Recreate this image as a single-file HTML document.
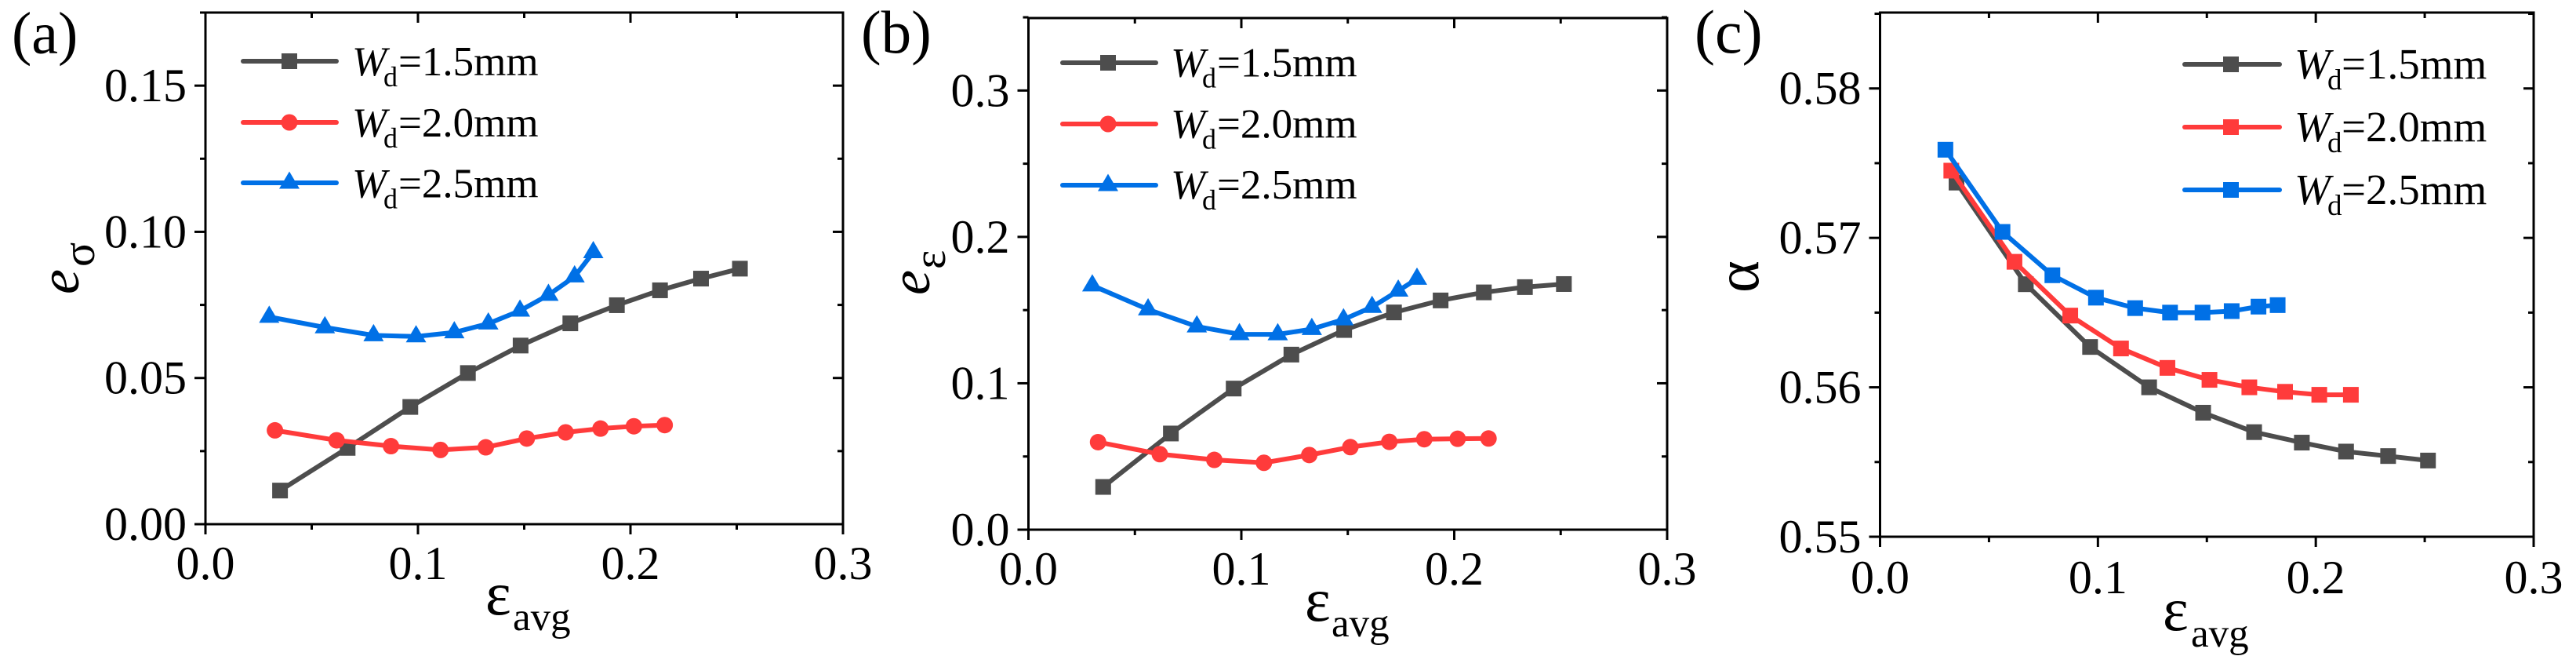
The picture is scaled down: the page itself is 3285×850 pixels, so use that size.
<!DOCTYPE html>
<html lang="en">
<head>
<meta charset="utf-8">
<title>Three panel strain charts</title>
<style>
html,body{margin:0;padding:0;background:#fff;}
body{width:3285px;height:850px;overflow:hidden;}
svg{display:block;}
text{font-family:"Liberation Serif","DejaVu Serif",serif;fill:#000;}
</style>
</head>
<body>
<svg id="figure" xmlns="http://www.w3.org/2000/svg" width="3285" height="850" viewBox="0 0 3285 850"></svg>
<script>
// ---- Data ----
const xTickValues = [0, 0.1, 0.2, 0.3];
const xTickLabels = ['0.0', '0.1', '0.2', '0.3'];
const xMinorValues = [0.05, 0.15, 0.25];
const legendWidths = ['1.5', '2.0', '2.5'];

const strain15 = [0.0351, 0.0669, 0.0964, 0.1235, 0.1483, 0.1717, 0.1936, 0.2139, 0.2332, 0.2515];
const strain20 = [0.0327, 0.0617, 0.0873, 0.1106, 0.1319, 0.1512, 0.1695, 0.1859, 0.2016, 0.2161];
const strain25 = [0.0300, 0.0562, 0.0791, 0.0991, 0.1171, 0.1331, 0.1480, 0.1614, 0.1737, 0.1825];

const eSigma15 = [0.0115, 0.0261, 0.0401, 0.0517, 0.0611, 0.0687, 0.0749, 0.0800, 0.0840, 0.0874];
const eSigma20 = [0.0321, 0.0287, 0.0267, 0.0254, 0.0263, 0.0293, 0.0314, 0.0327, 0.0335, 0.0339];
const eSigma25 = [0.0709, 0.0673, 0.0646, 0.0642, 0.0656, 0.0686, 0.0730, 0.0784, 0.0847, 0.0930];

const eEps15 = [0.0292, 0.0657, 0.0964, 0.1196, 0.1364, 0.1484, 0.1566, 0.1621, 0.1657, 0.1678];
const eEps20 = [0.0598, 0.0516, 0.0477, 0.0457, 0.0510, 0.0564, 0.0600, 0.0618, 0.0621, 0.0623];
const eEps25 = [0.1668, 0.1504, 0.1388, 0.1335, 0.1334, 0.1370, 0.1436, 0.1521, 0.1632, 0.1713];

const alpha15 = [0.5737, 0.5669, 0.5627, 0.5600, 0.5583, 0.5570, 0.5563, 0.5557, 0.5554, 0.5551];
const alpha20 = [0.5745, 0.5684, 0.5648, 0.5626, 0.5613, 0.5605, 0.5600, 0.5597, 0.5595, 0.5595];
const alpha25 = [0.5759, 0.5704, 0.5675, 0.5660, 0.5653, 0.5650, 0.5650, 0.5651, 0.5654, 0.5655];

const yTicksA = [0, 0.05, 0.10, 0.15];
const yTickLabelsA = ['0.00', '0.05', '0.10', '0.15'];
const yMinorA = [0.025, 0.075, 0.125, 0.175];
const yTicksB = [0, 0.1, 0.2, 0.3];
const yTickLabelsB = ['0.0', '0.1', '0.2', '0.3'];
const yMinorB = [0.05, 0.15, 0.25, 0.35];
const yTicksC = [0.55, 0.56, 0.57, 0.58];
const yTickLabelsC = ['0.55', '0.56', '0.57', '0.58'];
const yMinorC = [0.555, 0.565, 0.575, 0.585];

// ---- Styling and layout ----
const GRAY = '#4d4d4d', RED = '#ff3b3b', BLUE = '#0070e6';

const panels = [
  {
    id: 'a', tag: '(a)', tagX: 15, tagY: 68, tagSize: 76,
    left: 262, right: 1075, top: 16, bottom: 668,
    yMin: 0, yMax: 0.175, yTicks: yTicksA, yLabels: yTickLabelsA, yMinor: yMinorA,
    xLabelDy: 70, eps: {x: 619, y: 783, size: 78}, avg: {x: 654, y: 803, size: 51},
    yTitle: {x: 100, y: 375, size: 72, text: 'e', italic: true, subX: 120, subY: 340, subSize: 58, sub: 'σ'},
    legend: {x1: 307, x2: 432, mx: 369, rows: [78, 156, 233], tx: 449, base: [96, 174, 251.5], dx: 489, eqx: 508, dDy: 14, size: 53, subSize: 36},
    series: [
      {key: 'wd-1-5', xs: strain15, ys: eSigma15, color: GRAY, marker: 'square'},
      {key: 'wd-2-0', xs: strain20, ys: eSigma20, color: RED, marker: 'circle'},
      {key: 'wd-2-5', xs: strain25, ys: eSigma25, color: BLUE, marker: 'triangle'}
    ]
  },
  {
    id: 'b', tag: '(b)', tagX: 1098, tagY: 67, tagSize: 77,
    left: 1311.5, right: 2126, top: 23, bottom: 675,
    yMin: 0, yMax: 0.3495, yTicks: yTicksB, yLabels: yTickLabelsB, yMinor: yMinorB,
    xLabelDy: 70, eps: {x: 1664, y: 791, size: 78}, avg: {x: 1698, y: 811, size: 51},
    yTitle: {x: 1185, y: 376, size: 72, text: 'e', italic: true, subX: 1205, subY: 343, subSize: 58, sub: 'ε'},
    legend: {x1: 1352, x2: 1477, mx: 1413, rows: [80, 158, 236], tx: 1493, base: [97.5, 175.5, 253], dx: 1533, eqx: 1552, dDy: 14, size: 53, subSize: 36},
    series: [
      {key: 'wd-1-5', xs: strain15, ys: eEps15, color: GRAY, marker: 'square'},
      {key: 'wd-2-0', xs: strain20, ys: eEps20, color: RED, marker: 'circle'},
      {key: 'wd-2-5', xs: strain25, ys: eEps25, color: BLUE, marker: 'triangle'}
    ]
  },
  {
    id: 'c', tag: '(c)', tagX: 2161, tagY: 67, tagSize: 78,
    left: 2397.5, right: 3231, top: 16, bottom: 684,
    yMin: 0.55, yMax: 0.58508, yTicks: yTicksC, yLabels: yTickLabelsC, yMinor: yMinorC,
    xLabelDy: 72, eps: {x: 2758, y: 803, size: 78}, avg: {x: 2794, y: 824, size: 51},
    yTitle: {x: 2242, y: 373, size: 78, text: 'α', italic: false},
    legend: {x1: 2783, x2: 2910, mx: 2845, rows: [82, 162, 242], tx: 2926, base: [100, 180, 260], dx: 2968, eqx: 2986, dDy: 14, size: 55, subSize: 37},
    series: [
      {key: 'wd-1-5', xs: strain15, ys: alpha15, color: GRAY, marker: 'square'},
      {key: 'wd-2-0', xs: strain20, ys: alpha20, color: RED, marker: 'square'},
      {key: 'wd-2-5', xs: strain25, ys: alpha25, color: BLUE, marker: 'square'}
    ]
  }
];

// ---- Helpers ----
const NS = 'http://www.w3.org/2000/svg';
const svg = document.getElementById('figure');

function make(tag, props, parent, content) {
  const node = document.createElementNS(NS, tag);
  for (const k in props) node.setAttribute(k, props[k]);
  if (content !== undefined) node.textContent = content;
  parent.appendChild(node);
  return node;
}

function seg(parent, x1, y1, x2, y2, w) {
  return make('line', {x1: x1, y1: y1, x2: x2, y2: y2, stroke: '#000', 'stroke-width': w || 3}, parent);
}

function drawMarker(parent, type, cx, cy, color) {
  let node;
  if (type === 'square') {
    node = make('rect', {x: cx - 10, y: cy - 10, width: 20, height: 20, fill: color}, parent);
  } else if (type === 'circle') {
    node = make('circle', {cx: cx, cy: cy, r: 10.5, fill: color}, parent);
  } else {
    node = make('polygon', {points: (cx) + ',' + (cy - 14.5) + ' ' + (cx + 13) + ',' + (cy + 7.5) + ' ' + (cx - 13) + ',' + (cy + 7.5), fill: color}, parent);
  }
  
  
  return node;
}

// ---- Drawing ----
panels.forEach(function (p) {
  const X = function (v) { return p.left + (v / 0.3) * (p.right - p.left); };
  const Y = function (v) { return p.bottom - ((v - p.yMin) / (p.yMax - p.yMin)) * (p.bottom - p.top); };

  const g = make('g', {}, svg);
  
  

  const tag = make('text', {x: p.tagX, y: p.tagY, 'font-size': p.tagSize}, g, p.tag);
  
  

  // frame
  const frame = make('g', {}, g);
  
  
  make('rect', {x: p.left, y: p.top, width: p.right - p.left, height: p.bottom - p.top, fill: 'none', stroke: '#000', 'stroke-width': 3}, frame);

  // x ticks
  const xAxis = make('g', {}, g);
  
  
  xTickValues.forEach(function (v, i) {
    const x = X(v);
    seg(xAxis, x, p.bottom, x, p.bottom + 13);
    seg(xAxis, x, p.top, x, p.top + 13);
    const t = make('text', {x: x, y: p.bottom + p.xLabelDy, 'font-size': 60, 'text-anchor': 'middle'}, xAxis, xTickLabels[i]);
    
    
  });
  xMinorValues.forEach(function (v) {
    const x = X(v);
    seg(xAxis, x, p.bottom, x, p.bottom + 7);
    seg(xAxis, x, p.top, x, p.top + 7);
  });

  // y ticks
  const yAxis = make('g', {}, g);
  
  
  p.yTicks.forEach(function (v, i) {
    const y = Y(v);
    seg(yAxis, p.left - 14, y, p.left, y);
    seg(yAxis, p.right - 13, y, p.right, y);
    const t = make('text', {x: p.left - 24, y: y + 20, 'font-size': 60, 'text-anchor': 'end'}, yAxis, p.yLabels[i]);
    
    
  });
  p.yMinor.forEach(function (v) {
    const y = Y(v);
    seg(yAxis, p.left - 7, y, p.left, y);
    seg(yAxis, p.right - 7, y, p.right, y);
  });

  // x title
  const xTitle = make('text', {}, g);
  
  
  make('tspan', {x: p.eps.x, y: p.eps.y, 'font-size': p.eps.size}, xTitle, 'ε');
  make('tspan', {x: p.avg.x, y: p.avg.y, 'font-size': p.avg.size}, xTitle, 'avg');

  // y title
  const yt = p.yTitle;
  const yTitle = make('text', {transform: 'translate(' + yt.x + ',' + yt.y + ') rotate(-90)', 'font-size': yt.size, 'font-style': yt.italic ? 'italic' : 'normal'}, g, yt.text);
  
  
  if (yt.sub) {
    const ySub = make('text', {transform: 'translate(' + yt.subX + ',' + yt.subY + ') rotate(-90)', 'font-size': yt.subSize}, g, yt.sub);
    
    
  }

  // series
  p.series.forEach(function (s) {
    const sg = make('g', {}, g);
    
    
    const pts = s.xs.map(function (v, i) { return X(v) + ',' + Y(s.ys[i]); }).join(' ');
    const line = make('polyline', {points: pts, fill: 'none', stroke: s.color, 'stroke-width': 6, 'stroke-linejoin': 'round'}, sg);
    
    
    s.xs.forEach(function (v, i) {
      drawMarker(sg, s.marker, X(v), Y(s.ys[i]), s.color);
    });
  });

  // legend
  const L = p.legend;
  const lg = make('g', {}, g);
  
  
  p.series.forEach(function (s, i) {
    const row = make('g', {}, lg);
    
    
    make('line', {x1: L.x1 + 3, y1: L.rows[i], x2: L.x2 - 3, y2: L.rows[i], stroke: s.color, 'stroke-width': 6, 'stroke-linecap': 'round'}, row);
    drawMarker(row, s.marker, L.mx, L.rows[i], s.color);
    const t = make('text', {'font-size': L.size}, row);
    make('tspan', {x: L.tx, y: L.base[i], 'font-style': 'italic'}, t, 'W');
    make('tspan', {x: L.dx, y: L.base[i] + L.dDy, 'font-size': L.subSize}, t, 'd');
    make('tspan', {x: L.eqx, y: L.base[i]}, t, '=' + legendWidths[i] + 'mm');
  });
});
</script>
</body>
</html>
